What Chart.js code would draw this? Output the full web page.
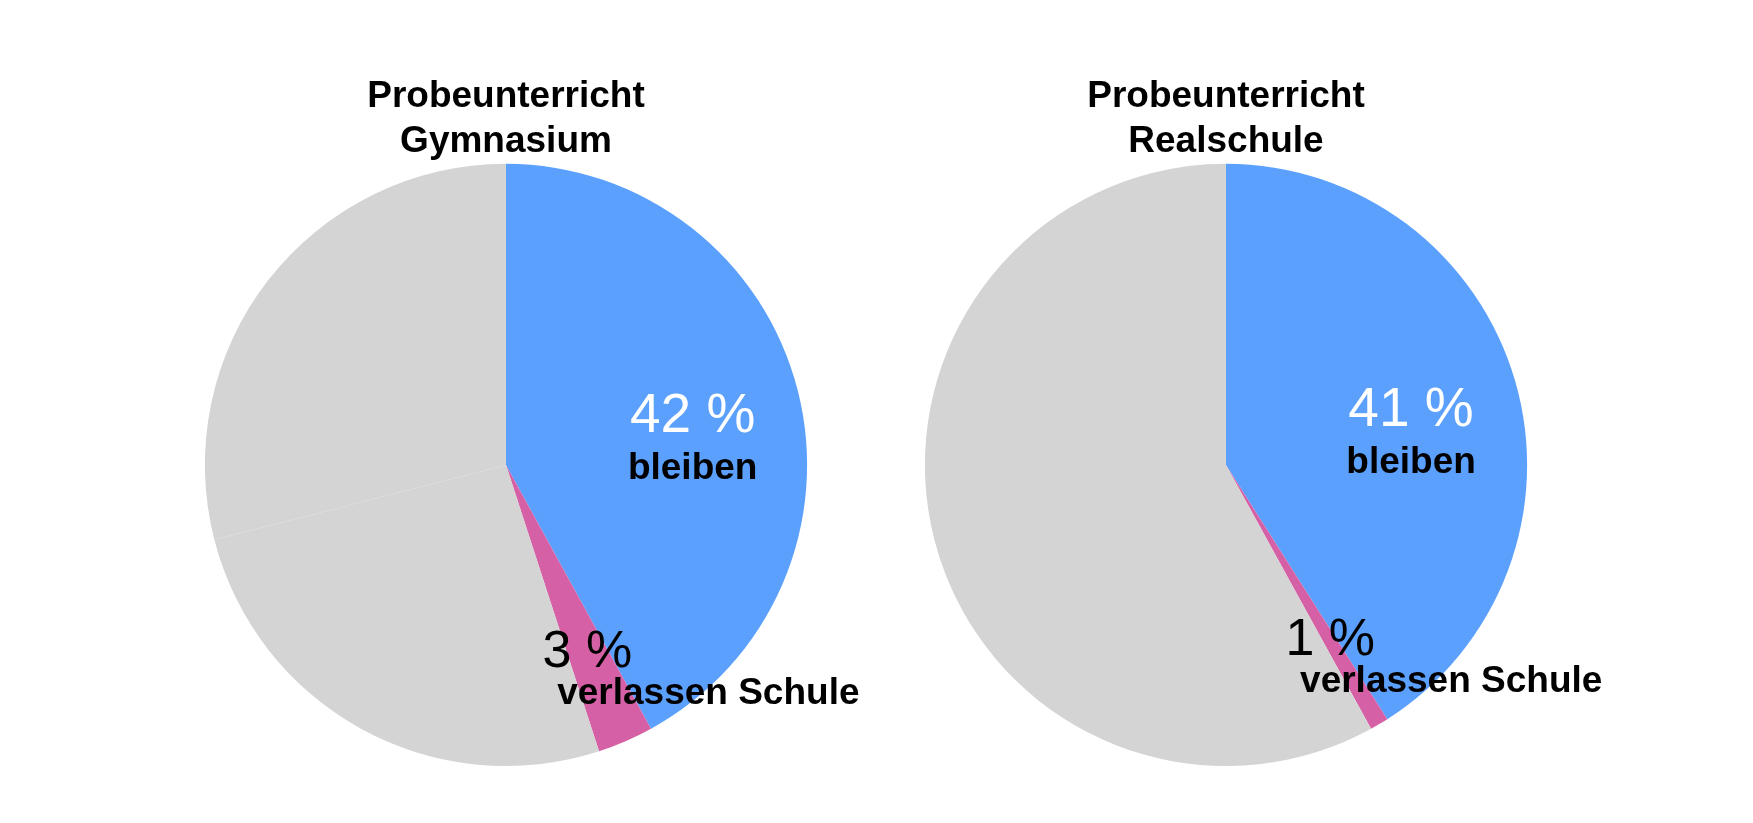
<!DOCTYPE html>
<html>
<head>
<meta charset="utf-8">
<script src="https://cdn.jsdelivr.net/npm/chart.js@4"></script>
<style>
  body { margin: 0; background: #fff; }
  .wrap { position: absolute; top: 0; width: 860px; height: 823px; }
  #left { left: 76px; }
  #right { left: 796px; }
</style>
</head>
<body>
<div class="wrap" id="left"><canvas id="chartLeft"></canvas></div>
<div class="wrap" id="right"><canvas id="chartRight"></canvas></div>
<script>
// data
const titleLeft = ['Probeunterricht', 'Gymnasium'];
const titleRight = ['Probeunterricht', 'Realschule'];
const categoriesLeft = ['bleiben', 'verlassen Schule', 'andere', 'andere'];
const valuesLeft = [42, 3, 26, 29];
const categoriesRight = ['bleiben', 'verlassen Schule', 'andere'];
const valuesRight = [41, 1, 58];

const BLUE = '#5ba0fd';
const PINK = '#d660a6';
const GREY = '#d4d4d4';
const FONT = "'Liberation Sans', Arial, Helvetica, sans-serif";

// draws "42 %" + name on the slices listed in options.plugins.sliceLabels.items
const sliceLabels = {
    id: 'sliceLabels',
    afterDatasetsDraw(chart, args, opts) {
        const ctx = chart.ctx;
        const meta = chart.getDatasetMeta(0);
        const data = chart.data.datasets[0].data;
        opts.items.forEach(item => {
            const arc = meta.data[item.index];
            const p = arc.getProps(['x', 'y', 'startAngle', 'endAngle', 'outerRadius'], true);
            const mid = (p.startAngle + p.endAngle) / 2;
            const cx = p.x + Math.cos(mid) * p.outerRadius * item.frac;
            const cy = p.y + Math.sin(mid) * p.outerRadius * item.frac;
            ctx.save();
            ctx.textAlign = 'center';
            ctx.textBaseline = 'middle';
            ctx.fillStyle = item.valueColor;
            ctx.font = `${item.valueSize}px ${FONT}`;
            ctx.fillText(data[item.index] + ' %', cx, cy);
            ctx.fillStyle = '#000';
            ctx.font = `bold 37px ${FONT}`;
            ctx.fillText(chart.data.labels[item.index], cx + item.nameDx, cy + item.nameDy);
            ctx.restore();
        });
    }
};

function makePie(canvas, title, labels, values, colors) {
    return new Chart(canvas, {
        type: 'pie',
        data: {
            labels: labels,
            datasets: [{
                data: values,
                backgroundColor: colors,
                borderWidth: 0,
                hoverOffset: 0
            }]
        },
        options: {
            responsive: true,
            maintainAspectRatio: false,
            animation: false,
            events: [],
            layout: { padding: { top: 0, bottom: 57 } },
            plugins: {
                legend: { display: false },
                tooltip: { enabled: false },
                title: {
                    display: true,
                    text: title,
                    color: '#000',
                    font: { family: FONT, size: 37, weight: 'bold', lineHeight: 1.2 },
                    padding: { top: 75, bottom: 0 }
                },
                sliceLabels: {
                    items: [
                        { index: 0, frac: 0.64, valueColor: '#fff', valueSize: 55, nameDx: 0, nameDy: 52 },
                        { index: 1, frac: 0.68, valueColor: '#000', valueSize: 52, nameDx: 121, nameDy: 41 }
                    ]
                }
            }
        },
        plugins: [sliceLabels]
    });
}

makePie(document.querySelector('#chartLeft'), titleLeft, categoriesLeft, valuesLeft, [BLUE, PINK, GREY, GREY]);
makePie(document.querySelector('#chartRight'), titleRight, categoriesRight, valuesRight, [BLUE, PINK, GREY]);
</script>
</body>
</html>
